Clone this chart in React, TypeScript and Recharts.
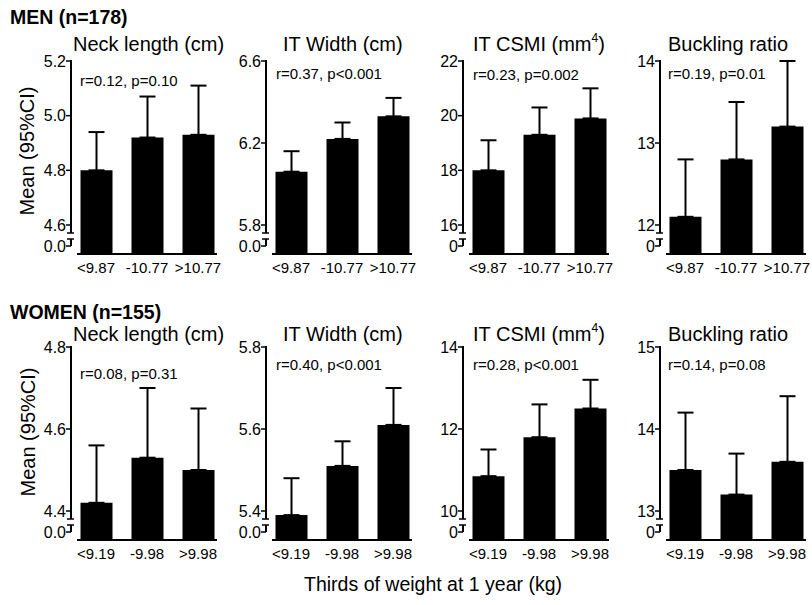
import React from "react";
import { BarChart, Bar, XAxis, YAxis, ErrorBar } from "recharts";

const FONT = '"Liberation Sans", Arial, Helvetica, sans-serif';

// groups (thirds of weight at 1 year, kg)
const menGroups = ["<9.87", "-10.77", ">10.77"];
const womenGroups = ["<9.19", "-9.98", ">9.98"];

// means and upper 95% CI limits, men
const menNeck = [4.8, 4.92, 4.93];
const menNeckHi = [4.94, 5.07, 5.11];
const menWidth = [6.06, 6.22, 6.33];
const menWidthHi = [6.16, 6.3, 6.42];
const menCsmi = [18.0, 19.3, 19.9];
const menCsmiHi = [19.1, 20.3, 21.0];
const menBuckling = [12.1, 12.8, 13.2];
const menBucklingHi = [12.8, 13.5, 14.0];

// women
const womenNeck = [4.42, 4.53, 4.5];
const womenNeckHi = [4.56, 4.7, 4.65];
const womenWidth = [5.39, 5.51, 5.61];
const womenWidthHi = [5.48, 5.57, 5.7];
const womenCsmi = [10.85, 11.8, 12.5];
const womenCsmiHi = [11.5, 12.6, 13.2];
const womenBuckling = [13.5, 13.2, 13.6];
const womenBucklingHi = [14.2, 13.7, 14.4];

// y tick values (upper part of the broken axis)
const menNeckTicks = [4.6, 4.8, 5.0, 5.2];
const menWidthTicks = [5.8, 6.2, 6.6];
const menCsmiTicks = [16, 18, 20, 22];
const menBucklingTicks = [12, 13, 14];
const womenNeckTicks = [4.4, 4.6, 4.8];
const womenWidthTicks = [5.4, 5.6, 5.8];
const womenCsmiTicks = [10, 12, 14];
const womenBucklingTicks = [13, 14, 15];

const titles = ["Neck length (cm)", "IT Width (cm)", "IT CSMI (mm", "Buckling ratio"];
const menStats = ["r=0.12, p=0.10", "r=0.37, p<0.001", "r=0.23, p=0.002", "r=0.19, p=0.01"];
const womenStats = ["r=0.08, p=0.31", "r=0.40, p<0.001", "r=0.28, p<0.001", "r=0.14, p=0.08"];

const menPanels = [
  { mean: menNeck, upper: menNeckHi, ticks: menNeckTicks, zero: "0.0", dec: 1 },
  { mean: menWidth, upper: menWidthHi, ticks: menWidthTicks, zero: "0.0", dec: 1 },
  { mean: menCsmi, upper: menCsmiHi, ticks: menCsmiTicks, zero: "0", dec: 0 },
  { mean: menBuckling, upper: menBucklingHi, ticks: menBucklingTicks, zero: "0", dec: 0 },
];
const womenPanels = [
  { mean: womenNeck, upper: womenNeckHi, ticks: womenNeckTicks, zero: "0.0", dec: 1 },
  { mean: womenWidth, upper: womenWidthHi, ticks: womenWidthTicks, zero: "0.0", dec: 1 },
  { mean: womenCsmi, upper: womenCsmiHi, ticks: womenCsmiTicks, zero: "0", dec: 0 },
  { mean: womenBuckling, upper: womenBucklingHi, ticks: womenBucklingTicks, zero: "0", dec: 0 },
];

// layout
const AXIS_X = [71, 266, 463, 660];
const ROW_TOP = [61, 347];
const SPAN = 164; // px from top tick to lowest tick
const PLOT_H = 193; // px from top tick to x axis
const TITLE_X = [73, 283, 473, 668];
const STAT_X = [80, 276, 473, 668];
const STAT_Y = [
  [86, 79, 80, 79],
  [379, 370, 370, 370],
];

function YTick(props: any) {
  const { x, y, payload, ticks, zero, dec } = props;
  const v = payload.value;
  const ax = x - 6;
  const isTop = v === ticks[ticks.length - 1];
  const isLow = v === ticks[0];
  return (
    <g>
      <line x1={ax - 5} x2={ax} y1={y} y2={y} stroke="#000" strokeWidth={1.5} />
      <text x={ax - 5} y={y} dy="0.36em" textAnchor="end" fontSize={16} fontFamily={FONT} fill="#000">
        {v.toFixed(dec)}
      </text>
      {isTop && <line x1={ax} x2={ax} y1={y - 1} y2={y + SPAN + 8} stroke="#000" strokeWidth={2} />}
      {isLow && (
        <g stroke="#000">
          <line x1={ax - 4} x2={ax + 3} y1={y + 8} y2={y + 8} strokeWidth={1.5} />
          <line x1={ax - 4} x2={ax + 3} y1={y + 14} y2={y + 14} strokeWidth={1.5} />
          <line x1={ax} x2={ax} y1={y + 14} y2={y + 21} strokeWidth={2} />
          <line x1={ax - 5} x2={ax} y1={y + 21} y2={y + 21} strokeWidth={1.5} />
          <text x={ax - 5} y={y + 21} dy="0.36em" textAnchor="end" fontSize={16} fontFamily={FONT} fill="#000" stroke="none">
            {zero}
          </text>
        </g>
      )}
    </g>
  );
}

function XTick(props: any) {
  const { x, y, payload, groups } = props;
  return (
    <text x={x} y={y + 19} textAnchor="middle" fontSize={15} fontFamily={FONT} fill="#000">
      {groups[payload.value - 1]}
    </text>
  );
}

function Panel({ axisX, topTick, groups, mean, upper, ticks, zero, dec }: any) {
  const low = ticks[0];
  const high = ticks[ticks.length - 1];
  const lo = low - ((high - low) * (PLOT_H - SPAN)) / SPAN;
  const data = groups.map((g: string, i: number) => ({
    x: i + 1,
    group: g,
    mean: mean[i],
    err: [0, +(upper[i] - mean[i]).toFixed(3)],
  }));
  return (
    <div style={{ position: "absolute", left: axisX - 66, top: topTick - 11 }}>
      <BarChart width={216} height={11 + PLOT_H + 30} data={data} margin={{ top: 11, right: 4, bottom: 0, left: 0 }}>
        <XAxis
          type="number"
          dataKey="x"
          domain={[1 - 19 / 51, 3 + 19 / 51]}
          ticks={[1, 2, 3]}
          interval={0}
          height={30}
          tickLine={false}
          tickSize={0}
          tickMargin={0}
          axisLine={{ stroke: "#000", strokeWidth: 2 }}
          tick={(p: any) => <XTick {...p} groups={groups} />}
        />
        <YAxis
          type="number"
          domain={[lo, high]}
          ticks={ticks}
          interval={0}
          width={72}
          axisLine={false}
          tickLine={false}
          tickSize={0}
          tickMargin={0}
          tick={(p: any) => <YTick {...p} ticks={ticks} zero={zero} dec={dec} />}
        />
        <Bar dataKey="mean" fill="#000" barSize={32} isAnimationActive={false}>
          <ErrorBar dataKey="err" width={8} strokeWidth={2} stroke="#000" />
        </Bar>
      </BarChart>
    </div>
  );
}

function Title({ i, y }: { i: number; y: number }) {
  return (
    <text x={TITLE_X[i]} y={y} fontSize={20}>
      {titles[i]}
      {i === 2 && (
        <>
          <tspan dy={-9} fontSize={12}>4</tspan>
          <tspan dy={9}>)</tspan>
        </>
      )}
    </text>
  );
}

export default function App() {
  return (
    <div style={{ position: "absolute", left: 0, top: 0, width: 812, height: 605, background: "#fff" }}>
      {menPanels.map((p, i) => (
        <Panel key={"m" + i} axisX={AXIS_X[i]} topTick={ROW_TOP[0]} groups={menGroups} {...p} />
      ))}
      {womenPanels.map((p, i) => (
        <Panel key={"w" + i} axisX={AXIS_X[i]} topTick={ROW_TOP[1]} groups={womenGroups} {...p} />
      ))}
      <svg
        width={812}
        height={605}
        style={{ position: "absolute", left: 0, top: 0, pointerEvents: "none" }}
        fontFamily={FONT}
        fill="#000"
      >
        <text x={10} y={24} fontSize={19.5} fontWeight="bold">MEN (n=178)</text>
        <text x={10} y={319} fontSize={19.5} fontWeight="bold">WOMEN (n=155)</text>
        {titles.map((_, i) => (
          <Title key={"t1" + i} i={i} y={51} />
        ))}
        {titles.map((_, i) => (
          <Title key={"t2" + i} i={i} y={341} />
        ))}
        {menStats.map((s, i) => (
          <text key={"s1" + i} x={STAT_X[i]} y={STAT_Y[0][i]} fontSize={15}>{s}</text>
        ))}
        {womenStats.map((s, i) => (
          <text key={"s2" + i} x={STAT_X[i]} y={STAT_Y[1][i]} fontSize={15}>{s}</text>
        ))}
        <text x={27} y={151} fontSize={20} textAnchor="middle" dominantBaseline="central" transform="rotate(-90 27 151)">
          Mean (95%CI)
        </text>
        <text x={28} y={432} fontSize={20} textAnchor="middle" dominantBaseline="central" transform="rotate(-90 28 432)">
          Mean (95%CI)
        </text>
        <text x={433} y={591} fontSize={19.5} textAnchor="middle">Thirds of weight at 1 year (kg)</text>
      </svg>
    </div>
  );
}
